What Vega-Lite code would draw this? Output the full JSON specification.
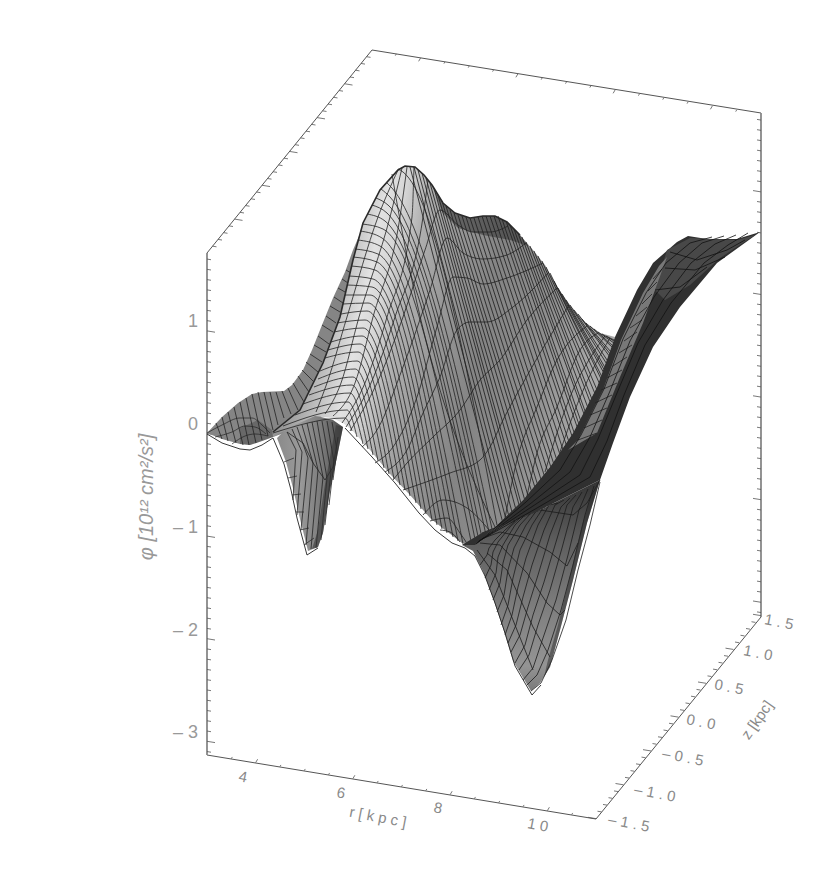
{"$schema":"https://vega.github.io/schema/vega-lite/v6.json","width":830,"height":873,"padding":0,"autosize":{"type":"none"},"background":"white","config":{"view":{"stroke":null}},
"encoding":{"x":{"field":"x","type":"quantitative","axis":null,"scale":{"domain":[0,830],"nice":false,"zero":false}},"y":{"field":"y","type":"quantitative","axis":null,"scale":{"domain":[873,0],"nice":false,"zero":false}}},
"datasets":{
"box":[{"x":207,"y":755,"x2":596,"y2":819},{"x":596,"y":819,"x2":761,"y2":617},{"x":207,"y":253,"x2":372,"y2":50},{"x":372,"y":50,"x2":761,"y2":113}],
"vert":[{"x":207,"y":253,"x2":207,"y2":755},{"x":761,"y":113,"x2":761,"y2":617}],
"ticks":[{"a":"L","v":-3.1},{"a":"L","v":-3,"m":1},{"a":"L","v":-2.9},{"a":"L","v":-2.8},{"a":"L","v":-2.7},{"a":"L","v":-2.6},{"a":"L","v":-2.5},{"a":"L","v":-2.4},{"a":"L","v":-2.3},{"a":"L","v":-2.2},{"a":"L","v":-2.1},{"a":"L","v":-2,"m":1},{"a":"L","v":-1.9},{"a":"L","v":-1.8},{"a":"L","v":-1.7},{"a":"L","v":-1.6},{"a":"L","v":-1.5},{"a":"L","v":-1.4},{"a":"L","v":-1.3},{"a":"L","v":-1.2},{"a":"L","v":-1.1},{"a":"L","v":-1,"m":1},{"a":"L","v":-0.9},{"a":"L","v":-0.8},{"a":"L","v":-0.7},{"a":"L","v":-0.6},{"a":"L","v":-0.5},{"a":"L","v":-0.4},{"a":"L","v":-0.3},{"a":"L","v":-0.2},{"a":"L","v":-0.1},{"a":"L","v":0,"m":1},{"a":"L","v":0.1},{"a":"L","v":0.2},{"a":"L","v":0.3},{"a":"L","v":0.4},{"a":"L","v":0.5},{"a":"L","v":0.6},{"a":"L","v":0.7},{"a":"L","v":0.8},{"a":"L","v":0.9},{"a":"L","v":1,"m":1},{"a":"L","v":1.1},{"a":"L","v":1.2},{"a":"L","v":1.3},{"a":"L","v":1.4},{"a":"L","v":1.5},{"a":"L","v":1.6},{"a":"L","v":1.7},
{"a":"R","v":-3.1},{"a":"R","v":-3,"m":1},{"a":"R","v":-2.9},{"a":"R","v":-2.8},{"a":"R","v":-2.7},{"a":"R","v":-2.6},{"a":"R","v":-2.5},{"a":"R","v":-2.4},{"a":"R","v":-2.3},{"a":"R","v":-2.2},{"a":"R","v":-2.1},{"a":"R","v":-2,"m":1},{"a":"R","v":-1.9},{"a":"R","v":-1.8},{"a":"R","v":-1.7},{"a":"R","v":-1.6},{"a":"R","v":-1.5},{"a":"R","v":-1.4},{"a":"R","v":-1.3},{"a":"R","v":-1.2},{"a":"R","v":-1.1},{"a":"R","v":-1,"m":1},{"a":"R","v":-0.9},{"a":"R","v":-0.8},{"a":"R","v":-0.7},{"a":"R","v":-0.6},{"a":"R","v":-0.5},{"a":"R","v":-0.4},{"a":"R","v":-0.3},{"a":"R","v":-0.2},{"a":"R","v":-0.1},{"a":"R","v":0,"m":1},{"a":"R","v":0.1},{"a":"R","v":0.2},{"a":"R","v":0.3},{"a":"R","v":0.4},{"a":"R","v":0.5},{"a":"R","v":0.6},{"a":"R","v":0.7},{"a":"R","v":0.8},{"a":"R","v":0.9},{"a":"R","v":1,"m":1},{"a":"R","v":1.1},{"a":"R","v":1.2},{"a":"R","v":1.3},{"a":"R","v":1.4},{"a":"R","v":1.5},{"a":"R","v":1.6},{"a":"R","v":1.7},
{"a":"T","v":-1.4},{"a":"T","v":-1.3},{"a":"T","v":-1.2},{"a":"T","v":-1.1},{"a":"T","v":-1,"m":1},{"a":"T","v":-0.9},{"a":"T","v":-0.8},{"a":"T","v":-0.7},{"a":"T","v":-0.6},{"a":"T","v":-0.5,"m":1},{"a":"T","v":-0.4},{"a":"T","v":-0.3},{"a":"T","v":-0.2},{"a":"T","v":-0.1},{"a":"T","v":0,"m":1},{"a":"T","v":0.1},{"a":"T","v":0.2},{"a":"T","v":0.3},{"a":"T","v":0.4},{"a":"T","v":0.5,"m":1},{"a":"T","v":0.6},{"a":"T","v":0.7},{"a":"T","v":0.8},{"a":"T","v":0.9},{"a":"T","v":1,"m":1},{"a":"T","v":1.1},{"a":"T","v":1.2},{"a":"T","v":1.3},{"a":"T","v":1.4},
{"a":"B","v":-1.5,"m":1},{"a":"B","v":-1.4},{"a":"B","v":-1.3},{"a":"B","v":-1.2},{"a":"B","v":-1.1},{"a":"B","v":-1,"m":1},{"a":"B","v":-0.9},{"a":"B","v":-0.8},{"a":"B","v":-0.7},{"a":"B","v":-0.6},{"a":"B","v":-0.5,"m":1},{"a":"B","v":-0.4},{"a":"B","v":-0.3},{"a":"B","v":-0.2},{"a":"B","v":-0.1},{"a":"B","v":0,"m":1},{"a":"B","v":0.1},{"a":"B","v":0.2},{"a":"B","v":0.3},{"a":"B","v":0.4},{"a":"B","v":0.5,"m":1},{"a":"B","v":0.6},{"a":"B","v":0.7},{"a":"B","v":0.8},{"a":"B","v":0.9},{"a":"B","v":1,"m":1},{"a":"B","v":1.1},{"a":"B","v":1.2},{"a":"B","v":1.3},{"a":"B","v":1.4},{"a":"B","v":1.5,"m":1},
{"a":"b","v":3.5},{"a":"b","v":4,"m":1},{"a":"b","v":4.5},{"a":"b","v":5},{"a":"b","v":5.5},{"a":"b","v":6,"m":1},{"a":"b","v":6.5},{"a":"b","v":7},{"a":"b","v":7.5},{"a":"b","v":8,"m":1},{"a":"b","v":8.5},{"a":"b","v":9},{"a":"b","v":9.5},{"a":"b","v":10,"m":1},{"a":"b","v":10.5},
{"a":"t","v":3.5},{"a":"t","v":4,"m":1},{"a":"t","v":4.5},{"a":"t","v":5},{"a":"t","v":5.5},{"a":"t","v":6,"m":1},{"a":"t","v":6.5},{"a":"t","v":7},{"a":"t","v":7.5},{"a":"t","v":8,"m":1},{"a":"t","v":8.5},{"a":"t","v":9},{"a":"t","v":9.5},{"a":"t","v":10,"m":1},{"a":"t","v":10.5}],
"pBack":[{"x":207,"y":433},{"x":222,"y":417},{"x":238,"y":403},{"x":252,"y":394},{"x":262,"y":392},{"x":284,"y":391},{"x":292,"y":385},{"x":303,"y":370},{"x":312,"y":350},{"x":322,"y":325},{"x":333,"y":298},{"x":345,"y":272},{"x":353,"y":250},{"x":365,"y":222},{"x":378,"y":195},{"x":398,"y":170},{"x":380,"y":260},{"x":320,"y":420},{"x":273,"y":437},{"x":262,"y":441},{"x":250,"y":445},{"x":240,"y":444},{"x":222,"y":439}],
"pLobe":[{"x":240,"y":428},{"x":258,"y":420},{"x":272,"y":430},{"x":273,"y":437},{"x":262,"y":441},{"x":250,"y":445},{"x":240,"y":444}],
"pDip1":[{"x":277,"y":438},{"x":286,"y":462},{"x":293,"y":488},{"x":299,"y":515},{"x":308,"y":551},{"x":318,"y":547},{"x":323,"y":533},{"x":330,"y":490},{"x":337,"y":457},{"x":343,"y":427},{"x":333,"y":420},{"x":317,"y":416},{"x":300,"y":420},{"x":287,"y":428}],
"pDip1d":[{"x":343,"y":427},{"x":337,"y":457},{"x":330,"y":490},{"x":323,"y":533},{"x":318,"y":547},{"x":312,"y":549},{"x":318,"y":530},{"x":324,"y":490},{"x":330,"y":457},{"x":336,"y":425}],
"pCenter":[{"x":273,"y":432},{"x":300,"y":410},{"x":323,"y":363},{"x":340,"y":317},{"x":353,"y":260},{"x":363,"y":223},{"x":380,"y":190},{"x":398,"y":170},{"x":405,"y":166},{"x":415,"y":167},{"x":424,"y":175},{"x":432,"y":185},{"x":443,"y":203},{"x":455,"y":213},{"x":470,"y":218},{"x":483,"y":216},{"x":495,"y":216},{"x":507,"y":222},{"x":520,"y":235},{"x":533,"y":250},{"x":545,"y":265},{"x":558,"y":288},{"x":570,"y":305},{"x":585,"y":322},{"x":600,"y":333},{"x":615,"y":337},{"x":597,"y":387},{"x":573,"y":433},{"x":550,"y":467},{"x":523,"y":500},{"x":497,"y":525},{"x":475,"y":545},{"x":462,"y":543},{"x":445,"y":530},{"x":430,"y":518},{"x":410,"y":495},{"x":390,"y":474},{"x":370,"y":450},{"x":352,"y":430},{"x":343,"y":423},{"x":332,"y":418},{"x":315,"y":416},{"x":295,"y":425},{"x":273,"y":437}],
"pTopDark":[{"x":432,"y":185},{"x":443,"y":203},{"x":455,"y":213},{"x":470,"y":218},{"x":483,"y":216},{"x":495,"y":216},{"x":507,"y":222},{"x":520,"y":235},{"x":528,"y":246},{"x":510,"y":240},{"x":483,"y":235},{"x":458,"y":228},{"x":442,"y":212}],
"pDip2":[{"x":462,"y":545},{"x":482,"y":533},{"x":540,"y":510},{"x":600,"y":480},{"x":587,"y":523},{"x":573,"y":580},{"x":560,"y":630},{"x":550,"y":667},{"x":540,"y":683},{"x":531,"y":691},{"x":513,"y":661},{"x":503,"y":628},{"x":493,"y":598},{"x":483,"y":571},{"x":473,"y":551}],
"pDip2d":[{"x":600,"y":480},{"x":587,"y":523},{"x":573,"y":580},{"x":560,"y":630},{"x":550,"y":667},{"x":544,"y":677},{"x":548,"y":660},{"x":558,"y":625},{"x":569,"y":580},{"x":582,"y":525},{"x":592,"y":495}],
"pFold":[{"x":462,"y":545},{"x":475,"y":545},{"x":497,"y":525},{"x":523,"y":500},{"x":550,"y":467},{"x":573,"y":433},{"x":597,"y":387},{"x":615,"y":337},{"x":637,"y":290},{"x":653,"y":263},{"x":677,"y":242},{"x":688,"y":236},{"x":707,"y":239},{"x":737,"y":239},{"x":760,"y":232},{"x":717,"y":263},{"x":680,"y":307},{"x":653,"y":347},{"x":630,"y":397},{"x":613,"y":443},{"x":600,"y":480},{"x":540,"y":510},{"x":482,"y":533}],
"pFoldTop":[{"x":667,"y":250},{"x":690,"y":238},{"x":737,"y":240},{"x":755,"y":235},{"x":720,"y":258},{"x":690,"y":285},{"x":665,"y":300},{"x":655,"y":290}],
"pStripe":[{"x":568,"y":450},{"x":597,"y":433},{"x":620,"y":377},{"x":643,"y":323},{"x":667,"y":257},{"x":659,"y":266},{"x":643,"y":293},{"x":621,"y":340},{"x":603,"y":390},{"x":578,"y":440}],
"segBack":[{"x":216,"y":423,"x2":222,"y2":439},{"x":222,"y":417,"x2":228,"y2":441},{"x":228,"y":412,"x2":236,"y2":443},{"x":234,"y":407,"x2":243,"y2":445},{"x":240,"y":402,"x2":249,"y2":445},{"x":246,"y":398,"x2":256,"y2":443},{"x":252,"y":394,"x2":262,"y2":440},{"x":258,"y":392,"x2":268,"y2":436},{"x":264,"y":392,"x2":273,"y2":430},{"x":270,"y":392,"x2":278,"y2":425},{"x":276,"y":392,"x2":284,"y2":418},{"x":282,"y":391,"x2":291,"y2":414},{"x":288,"y":388,"x2":298,"y2":410},{"x":293,"y":383,"x2":304,"y2":402},{"x":298,"y":376,"x2":309,"y2":392},{"x":302,"y":370,"x2":314,"y2":382},{"x":306,"y":362,"x2":318,"y2":372},{"x":310,"y":354,"x2":322,"y2":362},{"x":314,"y":345,"x2":326,"y2":352},{"x":318,"y":336,"x2":329,"y2":344},{"x":322,"y":325,"x2":333,"y2":332},{"x":326,"y":316,"x2":336,"y2":323},{"x":330,"y":306,"x2":340,"y2":312},{"x":334,"y":297,"x2":343,"y2":303},{"x":338,"y":288,"x2":345,"y2":292},{"x":342,"y":279,"x2":348,"y2":283},{"x":346,"y":270,"x2":351,"y2":273}],
"segG":[{"x":410,"y":167,"x2":517,"y2":577},{"x":414,"y":167,"x2":520,"y2":573},{"x":418,"y":170,"x2":522,"y2":566},{"x":422,"y":173,"x2":525,"y2":561},{"x":426,"y":178,"x2":528,"y2":554},{"x":430,"y":183,"x2":531,"y2":548},{"x":434,"y":188,"x2":532,"y2":543},{"x":438,"y":195,"x2":535,"y2":536},{"x":442,"y":201,"x2":538,"y2":530},{"x":446,"y":206,"x2":541,"y2":523},{"x":450,"y":210,"x2":544,"y2":517},{"x":454,"y":213,"x2":546,"y2":512},{"x":458,"y":215,"x2":549,"y2":505},{"x":462,"y":216,"x2":552,"y2":500},{"x":466,"y":217,"x2":555,"y2":494},{"x":470,"y":218,"x2":558,"y2":489},{"x":474,"y":218,"x2":560,"y2":483},{"x":478,"y":217,"x2":563,"y2":479},{"x":482,"y":216,"x2":566,"y2":473},{"x":486,"y":216,"x2":569,"y2":468},{"x":490,"y":216,"x2":572,"y2":462},{"x":494,"y":216,"x2":574,"y2":457},{"x":498,"y":216,"x2":577,"y2":451},{"x":502,"y":219,"x2":579,"y2":447},{"x":506,"y":221,"x2":582,"y2":441},{"x":510,"y":225,"x2":583,"y2":436},{"x":514,"y":229,"x2":585,"y2":433},{"x":518,"y":233,"x2":588,"y2":425},{"x":522,"y":237,"x2":589,"y2":422},{"x":526,"y":242,"x2":591,"y2":416},{"x":530,"y":246,"x2":594,"y2":412},{"x":534,"y":251,"x2":595,"y2":407},{"x":538,"y":256,"x2":598,"y2":401},{"x":542,"y":261,"x2":600,"y2":397},{"x":546,"y":267,"x2":602,"y2":389},{"x":550,"y":273,"x2":604,"y2":385},{"x":554,"y":281,"x2":604,"y2":381},{"x":558,"y":288,"x2":606,"y2":377},{"x":562,"y":294,"x2":606,"y2":373},{"x":566,"y":300,"x2":607,"y2":371},{"x":570,"y":305,"x2":608,"y2":366},{"x":574,"y":310,"x2":609,"y2":363},{"x":578,"y":314,"x2":610,"y2":357},{"x":582,"y":319,"x2":611,"y2":355},{"x":586,"y":323,"x2":611,"y2":352},{"x":590,"y":326,"x2":613,"y2":348},{"x":594,"y":329,"x2":613,"y2":346},{"x":598,"y":332,"x2":614,"y2":343},{"x":602,"y":334,"x2":614,"y2":341},{"x":606,"y":336,"x2":614,"y2":340}],
"segStripe":[{"x":578,"y":440,"x2":597,"y2":433},{"x":584,"y":428,"x2":602,"y2":420},{"x":590,"y":415,"x2":607,"y2":408},{"x":595,"y":403,"x2":612,"y2":395},{"x":601,"y":390,"x2":617,"y2":383},{"x":607,"y":378,"x2":622,"y2":370},{"x":613,"y":366,"x2":627,"y2":357},{"x":619,"y":353,"x2":632,"y2":345},{"x":624,"y":341,"x2":637,"y2":332},{"x":630,"y":328,"x2":642,"y2":320},{"x":636,"y":316,"x2":647,"y2":307},{"x":642,"y":304,"x2":652,"y2":294},{"x":648,"y":291,"x2":657,"y2":282},{"x":653,"y":279,"x2":662,"y2":269}],
"segBars":[{"x":284,"y":462,"x2":294,"y2":458},{"x":288,"y":478,"x2":297,"y2":476},{"x":292,"y":495,"x2":301,"y2":494},{"x":296,"y":512,"x2":304,"y2":512},{"x":300,"y":530,"x2":309,"y2":528},{"x":304,"y":545,"x2":314,"y2":538}],
"famF":[{"g":0,"x":273,"y":433},{"g":0,"x":345,"y":418},{"g":0,"x":352,"y":431},{"g":1,"x":283,"y":426},{"g":1,"x":347,"y":410},{"g":1,"x":357,"y":437},{"g":2,"x":295,"y":415},{"g":2,"x":348,"y":402},{"g":2,"x":363,"y":444},{"g":3,"x":303,"y":404},{"g":3,"x":350,"y":393},{"g":3,"x":368,"y":449},{"g":4,"x":309,"y":395},{"g":4,"x":352,"y":385},{"g":4,"x":373,"y":455},{"g":5,"x":314,"y":387},{"g":5,"x":353,"y":377},{"g":5,"x":378,"y":461},{"g":6,"x":318,"y":379},{"g":6,"x":355,"y":369},{"g":6,"x":384,"y":468},{"g":7,"x":320,"y":371},{"g":7,"x":357,"y":361},{"g":7,"x":389,"y":474},{"g":8,"x":325,"y":358},{"g":8,"x":358,"y":352},{"g":8,"x":394,"y":479},{"g":9,"x":328,"y":350},{"g":9,"x":360,"y":344},{"g":9,"x":400,"y":485},{"g":10,"x":331,"y":342},{"g":10,"x":362,"y":336},{"g":10,"x":405,"y":490},{"g":11,"x":334,"y":332},{"g":11,"x":363,"y":328},{"g":11,"x":410,"y":496},{"g":12,"x":337,"y":323},{"g":12,"x":365,"y":320},{"g":12,"x":416,"y":503},{"g":13,"x":341,"y":314},{"g":13,"x":367,"y":311},{"g":13,"x":421,"y":509},{"g":14,"x":343,"y":304},{"g":14,"x":368,"y":303},{"g":14,"x":426,"y":514},{"g":15,"x":345,"y":295},{"g":15,"x":370,"y":295},{"g":15,"x":432,"y":520},{"g":16,"x":347,"y":285},{"g":16,"x":372,"y":287},{"g":16,"x":437,"y":525},{"g":17,"x":349,"y":276},{"g":17,"x":373,"y":279},{"g":17,"x":442,"y":529},{"g":18,"x":351,"y":266},{"g":18,"x":375,"y":270},{"g":18,"x":447,"y":533},{"g":19,"x":353,"y":257},{"g":19,"x":377,"y":262},{"g":19,"x":453,"y":537},{"g":20,"x":355,"y":249},{"g":20,"x":378,"y":254},{"g":20,"x":458,"y":541},{"g":21,"x":358,"y":240},{"g":21,"x":380,"y":246},{"g":21,"x":463,"y":544},{"g":22,"x":360,"y":231},{"g":22,"x":382,"y":238},{"g":22,"x":472,"y":546},{"g":23,"x":362,"y":224},{"g":23,"x":383,"y":229},{"g":23,"x":476,"y":544},{"g":24,"x":367,"y":214},{"g":24,"x":385,"y":221},{"g":24,"x":479,"y":541},{"g":25,"x":372,"y":205},{"g":25,"x":387,"y":213},{"g":25,"x":482,"y":538},{"g":26,"x":376,"y":198},{"g":26,"x":388,"y":205},{"g":26,"x":486,"y":535},{"g":27,"x":381,"y":189},{"g":27,"x":390,"y":197},{"g":27,"x":489,"y":532},{"g":28,"x":386,"y":182},{"g":28,"x":392,"y":188},{"g":28,"x":492,"y":529},{"g":29,"x":392,"y":174},{"g":29,"x":393,"y":180},{"g":29,"x":495,"y":527},{"g":30,"x":398,"y":169},{"g":30,"x":403,"y":172},{"g":30,"x":497,"y":525}],
"lBack":[{"g":"a","x":207,"y":433},{"g":"a","x":222,"y":425},{"g":"a","x":240,"y":418},{"g":"a","x":252,"y":418},{"g":"a","x":262,"y":425},{"g":"a","x":270,"y":433},{"g":"b","x":215,"y":437},{"g":"b","x":232,"y":432},{"g":"b","x":245,"y":426},{"g":"b","x":255,"y":427},{"g":"b","x":266,"y":434},{"g":"c","x":232,"y":444},{"g":"c","x":245,"y":436},{"g":"c","x":255,"y":434},{"g":"c","x":268,"y":436}],
"lDip1":[{"g":"u","x":287,"y":432},{"g":"u","x":303,"y":443},{"g":"u","x":313,"y":463},{"g":"u","x":325,"y":480},{"g":"u","x":333,"y":467},{"g":"u","x":338,"y":437},{"g":1,"x":287,"y":432},{"g":1,"x":296,"y":450},{"g":1,"x":293,"y":500},{"g":2,"x":292,"y":429},{"g":2,"x":302,"y":452},{"g":2,"x":297,"y":515},{"g":3,"x":297,"y":427},{"g":3,"x":308,"y":458},{"g":3,"x":301,"y":530},{"g":4,"x":302,"y":425},{"g":4,"x":313,"y":463},{"g":4,"x":306,"y":545},{"g":5,"x":307,"y":423},{"g":5,"x":318,"y":470},{"g":5,"x":311,"y":549},{"g":6,"x":312,"y":422},{"g":6,"x":323,"y":477},{"g":6,"x":316,"y":548},{"g":7,"x":317,"y":421},{"g":7,"x":327,"y":478},{"g":7,"x":321,"y":540},{"g":8,"x":322,"y":421},{"g":8,"x":331,"y":472},{"g":8,"x":325,"y":525},{"g":9,"x":327,"y":421},{"g":9,"x":334,"y":462},{"g":9,"x":329,"y":505},{"g":10,"x":332,"y":422},{"g":10,"x":337,"y":450},{"g":10,"x":333,"y":480}],
"lSparse":[{"g":"f2","x":316,"y":412},{"g":"f2","x":327,"y":383},{"g":"f2","x":347,"y":317},{"g":"f2","x":378,"y":217},{"g":"f2","x":398,"y":170},{"g":"f3","x":325,"y":414},{"g":"f3","x":341,"y":383},{"g":"f3","x":359,"y":317},{"g":"f3","x":390,"y":217},{"g":"f3","x":402,"y":168},{"g":"f4","x":333,"y":416},{"g":"f4","x":355,"y":383},{"g":"f4","x":373,"y":317},{"g":"f4","x":400,"y":217},{"g":"f4","x":407,"y":167},{"g":"f5","x":342,"y":423},{"g":"f5","x":365,"y":383},{"g":"f5","x":387,"y":317},{"g":"f5","x":412,"y":217},{"g":"f5","x":414,"y":167},{"g":"f6","x":346,"y":427},{"g":"f6","x":371,"y":383},{"g":"f6","x":395,"y":317},{"g":"f6","x":423,"y":217},{"g":"f6","x":428,"y":180},{"g":"l1","x":350,"y":431},{"g":"l1","x":377,"y":383},{"g":"l1","x":403,"y":317},{"g":"l1","x":425,"y":250},{"g":"l1","x":440,"y":210},{"g":"l1","x":458,"y":225},{"g":"l1","x":473,"y":232},{"g":"l1","x":490,"y":232},{"g":"l1","x":508,"y":226},{"g":"l2","x":362,"y":447},{"g":"l2","x":377,"y":430},{"g":"l2","x":403,"y":367},{"g":"l2","x":430,"y":290},{"g":"l2","x":447,"y":238},{"g":"l2","x":463,"y":253},{"g":"l2","x":483,"y":259},{"g":"l2","x":507,"y":255},{"g":"l2","x":526,"y":243},{"g":"l3","x":375,"y":463},{"g":"l3","x":393,"y":447},{"g":"l3","x":417,"y":397},{"g":"l3","x":437,"y":327},{"g":"l3","x":453,"y":277},{"g":"l3","x":467,"y":278},{"g":"l3","x":483,"y":284},{"g":"l3","x":507,"y":278},{"g":"l3","x":543,"y":263},{"g":"l4","x":385,"y":472},{"g":"l4","x":407,"y":450},{"g":"l4","x":423,"y":413},{"g":"l4","x":440,"y":377},{"g":"l4","x":457,"y":330},{"g":"l4","x":470,"y":322},{"g":"l4","x":487,"y":322},{"g":"l4","x":513,"y":307},{"g":"l4","x":549,"y":272},{"g":"l5","x":393,"y":480},{"g":"l5","x":407,"y":463},{"g":"l5","x":433,"y":437},{"g":"l5","x":460,"y":410},{"g":"l5","x":480,"y":380},{"g":"l5","x":500,"y":360},{"g":"l5","x":527,"y":320},{"g":"l5","x":557,"y":288},{"g":"l6","x":403,"y":490},{"g":"l6","x":450,"y":473},{"g":"l6","x":480,"y":460},{"g":"l6","x":490,"y":447},{"g":"l6","x":503,"y":420},{"g":"l6","x":523,"y":383},{"g":"l6","x":569,"y":305},{"g":"l7","x":505,"y":518},{"g":"l7","x":517,"y":460},{"g":"l7","x":537,"y":407},{"g":"l7","x":557,"y":360},{"g":"l7","x":587,"y":326},{"g":"l8","x":527,"y":496},{"g":"l8","x":537,"y":453},{"g":"l8","x":557,"y":407},{"g":"l8","x":580,"y":350},{"g":"l8","x":598,"y":333},{"g":"l9","x":545,"y":472},{"g":"l9","x":557,"y":433},{"g":"l9","x":573,"y":390},{"g":"l9","x":592,"y":355},{"g":"l9","x":605,"y":336},{"g":"l10","x":560,"y":452},{"g":"l10","x":575,"y":410},{"g":"l10","x":595,"y":365},{"g":"l10","x":610,"y":338},{"g":"a1","x":423,"y":515},{"g":"a1","x":443,"y":500},{"g":"a1","x":467,"y":508},{"g":"a1","x":490,"y":531},{"g":"a2","x":430,"y":521},{"g":"a2","x":447,"y":518},{"g":"a2","x":460,"y":533},{"g":"a2","x":468,"y":545},{"g":"a3","x":440,"y":530},{"g":"a3","x":450,"y":532},{"g":"a3","x":460,"y":542}],
"lDip2":[{"g":"k1","x":531,"y":691},{"g":"k1","x":541,"y":683},{"g":"k1","x":552,"y":660},{"g":"k1","x":566,"y":620},{"g":"k1","x":578,"y":570},{"g":"k1","x":590,"y":525},{"g":"k1","x":600,"y":482},{"g":"k2","x":527,"y":685},{"g":"k2","x":537,"y":675},{"g":"k2","x":548,"y":650},{"g":"k2","x":561,"y":610},{"g":"k2","x":573,"y":565},{"g":"k2","x":585,"y":515},{"g":"k2","x":594,"y":486},{"g":"k3","x":523,"y":680},{"g":"k3","x":533,"y":668},{"g":"k3","x":543,"y":638},{"g":"k3","x":556,"y":600},{"g":"k3","x":568,"y":555},{"g":"k3","x":579,"y":510},{"g":"k3","x":588,"y":489},{"g":"k4","x":519,"y":670},{"g":"k4","x":529,"y":655},{"g":"k4","x":538,"y":625},{"g":"k4","x":550,"y":590},{"g":"k4","x":562,"y":548},{"g":"k4","x":573,"y":507},{"g":"k4","x":582,"y":492},{"g":"k5","x":515,"y":663},{"g":"k5","x":525,"y":645},{"g":"k5","x":533,"y":615},{"g":"k5","x":544,"y":582},{"g":"k5","x":556,"y":542},{"g":"k5","x":567,"y":505},{"g":"k5","x":576,"y":495},{"g":"k6","x":511,"y":652},{"g":"k6","x":520,"y":635},{"g":"k6","x":528,"y":607},{"g":"k6","x":538,"y":575},{"g":"k6","x":550,"y":535},{"g":"k6","x":561,"y":507},{"g":"k6","x":570,"y":498},{"g":"k7","x":508,"y":643},{"g":"k7","x":516,"y":625},{"g":"k7","x":523,"y":597},{"g":"k7","x":532,"y":565},{"g":"k7","x":544,"y":530},{"g":"k7","x":555,"y":505},{"g":"k7","x":564,"y":500},{"g":"k8","x":505,"y":635},{"g":"k8","x":512,"y":615},{"g":"k8","x":518,"y":587},{"g":"k8","x":526,"y":558},{"g":"k8","x":538,"y":525},{"g":"k8","x":549,"y":505},{"g":"k8","x":558,"y":503},{"g":"k9","x":501,"y":625},{"g":"k9","x":508,"y":605},{"g":"k9","x":513,"y":578},{"g":"k9","x":520,"y":550},{"g":"k9","x":532,"y":525},{"g":"k9","x":543,"y":508},{"g":"k10","x":497,"y":612},{"g":"k10","x":504,"y":595},{"g":"k10","x":508,"y":570},{"g":"k10","x":514,"y":548},{"g":"k10","x":526,"y":525},{"g":"k10","x":537,"y":510},{"g":"k11","x":493,"y":600},{"g":"k11","x":500,"y":583},{"g":"k11","x":503,"y":563},{"g":"k11","x":508,"y":545},{"g":"k11","x":520,"y":525},{"g":"k11","x":531,"y":513},{"g":"k12","x":489,"y":590},{"g":"k12","x":496,"y":573},{"g":"k12","x":498,"y":557},{"g":"k12","x":503,"y":545},{"g":"k12","x":515,"y":525},{"g":"k12","x":525,"y":515},{"g":"k13","x":485,"y":578},{"g":"k13","x":491,"y":565},{"g":"k13","x":493,"y":552},{"g":"k13","x":498,"y":542},{"g":"k13","x":510,"y":527},{"g":"k13","x":520,"y":518},{"g":"k14","x":480,"y":565},{"g":"k14","x":487,"y":555},{"g":"k14","x":489,"y":548},{"g":"k14","x":495,"y":540},{"g":"k14","x":505,"y":530},{"g":"k14","x":515,"y":521},{"g":"d1","x":465,"y":545},{"g":"d1","x":500,"y":532},{"g":"d1","x":523,"y":537},{"g":"d1","x":550,"y":552},{"g":"d1","x":567,"y":566},{"g":"d1","x":578,"y":543},{"g":"d2","x":482,"y":533},{"g":"d2","x":540,"y":510},{"g":"d2","x":573,"y":515},{"g":"d2","x":587,"y":503},{"g":"d2","x":600,"y":480},{"g":"d3","x":480,"y":543},{"g":"d3","x":500,"y":545},{"g":"d3","x":527,"y":573},{"g":"d3","x":547,"y":603},{"g":"d3","x":560,"y":615},{"g":"d3","x":565,"y":610},{"g":"d4","x":487,"y":553},{"g":"d4","x":507,"y":570},{"g":"d4","x":533,"y":627},{"g":"d4","x":550,"y":657},{"g":"d5","x":477,"y":550},{"g":"d5","x":495,"y":575},{"g":"d5","x":515,"y":625},{"g":"d5","x":533,"y":670}],
"lFold":[{"g":1,"x":476,"y":544},{"g":1,"x":526,"y":502},{"g":1,"x":560,"y":470},{"g":1,"x":581,"y":435},{"g":1,"x":604,"y":389},{"g":1,"x":623,"y":339},{"g":1,"x":646,"y":293},{"g":1,"x":666,"y":263},{"g":1,"x":690,"y":243},{"g":1,"x":712,"y":237},{"g":2,"x":477,"y":543},{"g":2,"x":530,"y":504},{"g":2,"x":570,"y":472},{"g":2,"x":590,"y":437},{"g":2,"x":610,"y":391},{"g":2,"x":630,"y":341},{"g":2,"x":654,"y":297},{"g":2,"x":679,"y":263},{"g":2,"x":702,"y":243},{"g":2,"x":724,"y":236},{"g":3,"x":478,"y":542},{"g":3,"x":533,"y":506},{"g":3,"x":580,"y":475},{"g":3,"x":598,"y":439},{"g":3,"x":617,"y":393},{"g":3,"x":638,"y":343},{"g":3,"x":663,"y":300},{"g":3,"x":691,"y":263},{"g":3,"x":715,"y":244},{"g":3,"x":736,"y":235},{"g":4,"x":479,"y":541},{"g":4,"x":537,"y":508},{"g":4,"x":590,"y":477},{"g":4,"x":607,"y":441},{"g":4,"x":624,"y":395},{"g":4,"x":645,"y":345},{"g":4,"x":671,"y":303},{"g":4,"x":704,"y":263},{"g":4,"x":728,"y":245},{"g":4,"x":748,"y":233},{"g":"t1","x":670,"y":252},{"g":"t1","x":697,"y":260},{"g":"t1","x":727,"y":250},{"g":"t1","x":745,"y":240},{"g":"t2","x":665,"y":268},{"g":"t2","x":695,"y":270},{"g":"t2","x":725,"y":257},{"g":"t3","x":655,"y":290},{"g":"t3","x":680,"y":287},{"g":"t3","x":707,"y":267}],
"lDark":[{"g":"fold","x":273,"y":432},{"g":"fold","x":300,"y":410},{"g":"fold","x":323,"y":363},{"g":"fold","x":340,"y":317},{"g":"fold","x":353,"y":260},{"g":"fold","x":363,"y":223},{"g":"fold","x":380,"y":190},{"g":"fold","x":398,"y":170},{"g":"fold","x":405,"y":166},{"g":"fold","x":415,"y":167},{"g":"fold","x":424,"y":175},{"g":"fold","x":432,"y":185},{"g":"fold","x":443,"y":203},{"g":"fold","x":455,"y":213},{"g":"fold","x":470,"y":218},{"g":"fold","x":483,"y":216},{"g":"fold","x":495,"y":216},{"g":"fold","x":507,"y":222},{"g":"fold","x":520,"y":235}],
"lEdge":[{"g":1,"x":207,"y":434},{"g":1,"x":222,"y":443},{"g":1,"x":240,"y":449},{"g":1,"x":250,"y":450},{"g":1,"x":262,"y":445},{"g":1,"x":273,"y":438},{"g":1,"x":284,"y":464},{"g":1,"x":291,"y":490},{"g":1,"x":297,"y":518},{"g":1,"x":307,"y":555},{"g":1,"x":318,"y":548},{"g":2,"x":345,"y":428},{"g":2,"x":372,"y":457},{"g":2,"x":395,"y":483},{"g":2,"x":419,"y":513},{"g":2,"x":435,"y":530},{"g":2,"x":452,"y":543},{"g":2,"x":465,"y":548},{"g":2,"x":475,"y":556},{"g":2,"x":485,"y":576},{"g":2,"x":495,"y":603},{"g":2,"x":505,"y":633},{"g":2,"x":515,"y":666},{"g":2,"x":532,"y":695},{"g":2,"x":541,"y":685}],
"phiLab":[{"t":"1","x":198,"y":322},{"t":"0","x":198,"y":425},{"t":"– 1","x":198,"y":528},{"t":"– 2","x":198,"y":631},{"t":"– 3","x":198,"y":733}],
"rLab":[{"t":"4","x":243,"y":777},{"t":"6","x":341,"y":793},{"t":"8","x":438,"y":808},{"t":"1 0","x":538,"y":825},{"t":"r   [ k p c ]","x":378,"y":817},{"t":"1 . 5","x":779,"y":622},{"t":"1 . 0","x":758,"y":653},{"t":"0 . 5","x":729,"y":687},{"t":"0 . 0","x":701,"y":722},{"t":"– 0 . 5","x":683,"y":757},{"t":"– 1 . 0","x":655,"y":793},{"t":"– 1 . 5","x":629,"y":823}],
"zTitle":[{"t":"z [kpc]","x":757,"y":720}],
"phiTitle":[{"t":"φ [10¹² cm²/s²]","x":147,"y":497}]
},
"layer":[
{"data":{"name":"box"},"mark":{"type":"rule","color":"#555","strokeWidth":1},"encoding":{"x2":{"field":"x2"},"y2":{"field":"y2"}}},
{"data":{"name":"vert"},"mark":{"type":"rule","color":"#888","strokeWidth":1.8},"encoding":{"x2":{"field":"x2"},"y2":{"field":"y2"}}},
{"data":{"name":"ticks"},"transform":[
{"calculate":"indexof(['b','t'],datum.a)>=0?datum.v:(indexof(['L','T'],datum.a)>=0?3:11)","as":"r"},
{"calculate":"indexof(['L','b'],datum.a)>=0?-1.5:(indexof(['R','t'],datum.a)>=0?1.5:datum.v)","as":"z"},
{"calculate":"indexof(['L','R'],datum.a)>=0?datum.v:(indexof(['b','B'],datum.a)>=0?-3.13:1.76)","as":"p"},
{"calculate":"207+48.625*(datum.r-3)+55*(datum.z+1.5)","as":"x"},
{"calculate":"433.5-102.6*datum.p+8*(datum.r-3)-67.67*(datum.z+1.5)","as":"y"},
{"calculate":"datum.m?1:0.5","as":"q"},
{"calculate":"datum.x+datum.q*({L:8,T:8,R:-8,B:-8,b:2,t:-2})[datum.a]","as":"x2"},
{"calculate":"datum.y+datum.q*({L:1.3,T:1.3,R:-1.3,B:-1.3,b:-3.4,t:3.4})[datum.a]","as":"y2"}],
"mark":{"type":"rule","color":"#555","strokeWidth":0.8},"encoding":{"x2":{"field":"x2"},"y2":{"field":"y2"}}},
{"data":{"name":"pBack"},"mark":{"type":"line","fill":"#858585","stroke":null},"encoding":{"order":{"value":null}}},
{"data":{"name":"pLobe"},"mark":{"type":"line","fill":"#333","fillOpacity":0.35,"stroke":null},"encoding":{"order":{"value":null}}},
{"data":{"name":"segBack"},"mark":{"type":"rule","color":"#222","strokeWidth":0.8},"encoding":{"x2":{"field":"x2"},"y2":{"field":"y2"}}},
{"data":{"name":"lBack"},"mark":{"type":"line","stroke":"#222","strokeWidth":0.7,"interpolate":"monotone"},"encoding":{"detail":{"field":"g"}}},
{"data":{"name":"pDip1"},"mark":{"type":"line","fill":{"gradient":"linear","x1":0,"y1":0,"x2":1,"y2":0,"stops":[{"offset":0,"color":"#8a8a8a"},{"offset":0.35,"color":"#9a9a9a"},{"offset":0.7,"color":"#787878"},{"offset":1,"color":"#4a4a4a"}]},"stroke":null},"encoding":{"order":{"value":null}}},
{"data":{"name":"lDip1"},"mark":{"type":"line","stroke":"#222","strokeWidth":0.8},"encoding":{"detail":{"field":"g"},"order":{"value":null}}},
{"data":{"name":"segBars"},"mark":{"type":"rule","color":"#222","strokeWidth":0.7},"encoding":{"x2":{"field":"x2"},"y2":{"field":"y2"}}},
{"data":{"name":"pDip1d"},"mark":{"type":"line","fill":"#333","fillOpacity":0.55,"stroke":null},"encoding":{"order":{"value":null}}},
{"data":{"name":"pCenter"},"mark":{"type":"line","fill":{"gradient":"linear","x1":0,"y1":0,"x2":1,"y2":0.23,"stops":[{"offset":0,"color":"#858585"},{"offset":0.17,"color":"#959595"},{"offset":0.27,"color":"#c4c4c4"},{"offset":0.33,"color":"#e2e2e2"},{"offset":0.38,"color":"#d6d6d6"},{"offset":0.45,"color":"#aeaeae"},{"offset":0.55,"color":"#989898"},{"offset":0.68,"color":"#848484"},{"offset":0.85,"color":"#8e8e8e"},{"offset":1,"color":"#a8a8a8"}]},"stroke":null},"encoding":{"order":{"value":null}}},
{"data":{"name":"pTopDark"},"mark":{"type":"line","fill":"#222","fillOpacity":0.45,"stroke":null},"encoding":{"order":{"value":null}}},
{"data":{"name":"famF"},"mark":{"type":"line","stroke":"#222","strokeWidth":0.8,"interpolate":"monotone"},"encoding":{"detail":{"field":"g"}}},
{"data":{"name":"segG"},"mark":{"type":"rule","color":"#222","strokeWidth":0.85},"encoding":{"x2":{"field":"x2"},"y2":{"field":"y2"}}},
{"data":{"name":"lSparse"},"mark":{"type":"line","stroke":"#222","strokeWidth":0.8,"interpolate":"monotone"},"encoding":{"detail":{"field":"g"}}},
{"data":{"name":"lDark"},"mark":{"type":"line","stroke":"#2a2a2a","strokeWidth":1.6},"encoding":{"detail":{"field":"g"},"order":{"value":null}}},
{"data":{"name":"pDip2"},"mark":{"type":"line","fill":{"gradient":"linear","x1":0,"y1":0,"x2":0,"y2":1,"stops":[{"offset":0,"color":"#333"},{"offset":0.3,"color":"#5f5f5f"},{"offset":0.65,"color":"#828282"},{"offset":0.88,"color":"#949494"},{"offset":1,"color":"#7a7a7a"}]},"stroke":null},"encoding":{"order":{"value":null}}},
{"data":{"name":"lDip2"},"mark":{"type":"line","stroke":"#1c1c1c","strokeWidth":0.8},"encoding":{"detail":{"field":"g"},"order":{"value":null}}},
{"data":{"name":"pDip2d"},"mark":{"type":"line","fill":"#2a2a2a","fillOpacity":0.5,"stroke":null},"encoding":{"order":{"value":null}}},
{"data":{"name":"pFold"},"mark":{"type":"line","fill":"#303030","stroke":null},"encoding":{"order":{"value":null}}},
{"data":{"name":"pFoldTop"},"mark":{"type":"line","fill":"#484848","stroke":null},"encoding":{"order":{"value":null}}},
{"data":{"name":"pStripe"},"mark":{"type":"line","fill":"#787878","stroke":null},"encoding":{"order":{"value":null}}},
{"data":{"name":"segStripe"},"mark":{"type":"rule","color":"#222","strokeWidth":0.8},"encoding":{"x2":{"field":"x2"},"y2":{"field":"y2"}}},
{"data":{"name":"lFold"},"mark":{"type":"line","stroke":"#111","strokeWidth":0.8},"encoding":{"detail":{"field":"g"},"order":{"value":null}}},
{"data":{"name":"lEdge"},"mark":{"type":"line","stroke":"#222","strokeWidth":0.9},"encoding":{"detail":{"field":"g"},"order":{"value":null}}},
{"data":{"name":"phiLab"},"mark":{"type":"text","font":"Liberation Sans","fontSize":18,"color":"#999","align":"right","baseline":"middle"},"encoding":{"text":{"field":"t"}}},
{"data":{"name":"rLab"},"mark":{"type":"text","font":"Liberation Sans","fontSize":15,"color":"#8a8a8a","align":"center","baseline":"middle","angle":11},"encoding":{"text":{"field":"t"}}},
{"data":{"name":"zTitle"},"mark":{"type":"text","font":"Liberation Sans","fontSize":15,"color":"#8a8a8a","align":"center","baseline":"middle","angle":-55},"encoding":{"text":{"field":"t"}}},
{"data":{"name":"phiTitle"},"mark":{"type":"text","font":"Liberation Sans","fontSize":20,"fontStyle":"italic","color":"#999","align":"center","baseline":"middle","angle":-90},"encoding":{"text":{"field":"t"}}}
]}
